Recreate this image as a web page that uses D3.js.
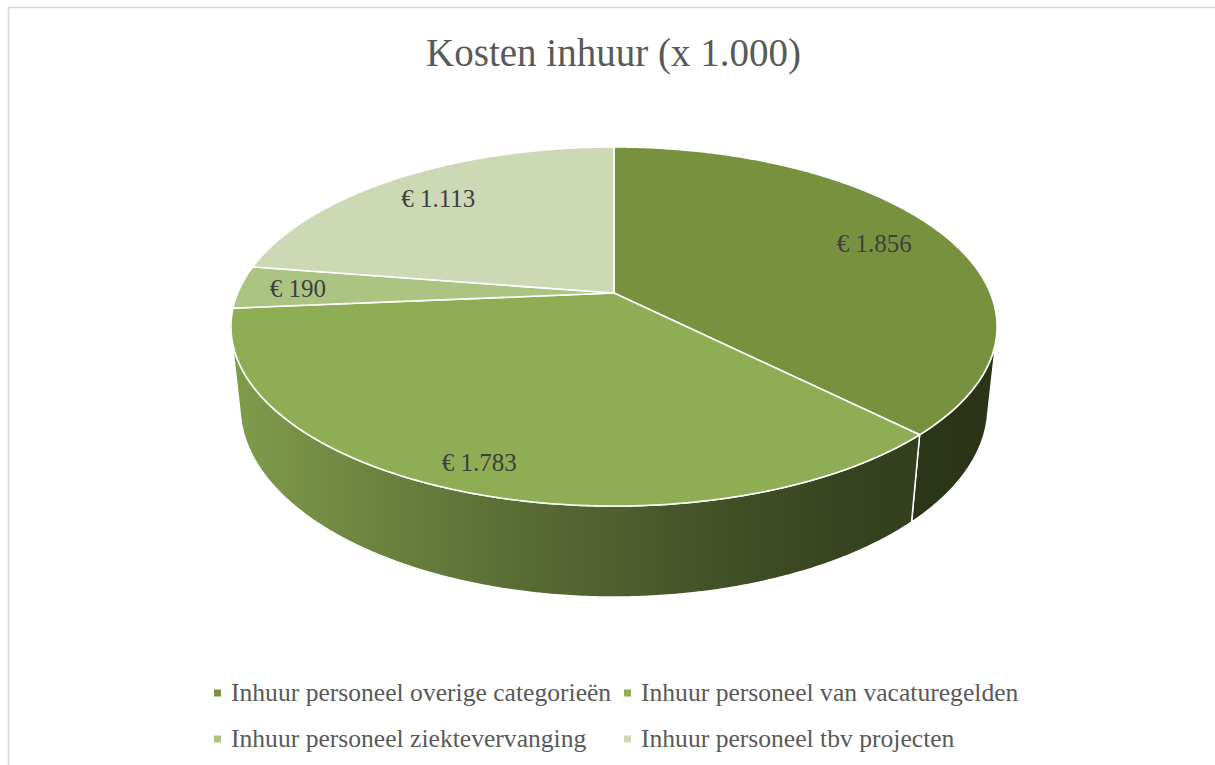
<!DOCTYPE html>
<html><head><meta charset="utf-8">
<script src="https://cdn.jsdelivr.net/npm/d3@7"></script>
<style>body{margin:0;background:#fff}svg{display:block}</style>
</head><body>
<svg id="chart" width="1215" height="765"></svg>
<script>
// ---- data ----
const chartTitle = "Kosten inhuur (x 1.000)";
const categories = [
  "Inhuur personeel overige categorieën",
  "Inhuur personeel van vacaturegelden",
  "Inhuur personeel ziektevervanging",
  "Inhuur personeel tbv projecten"
];
const values = [1856, 1783, 190, 1113];
const valueLabels = ["€ 1.856", "€ 1.783", "€ 190", "€ 1.113"];
const colors = ["#77913f", "#8fad54", "#abc481", "#cdd8b5"];

// ---- layout / 3D projection ----
const svg = d3.select("#chart");
const FONT = "'Liberation Serif', 'Times New Roman', serif";
const cx = 614, cy = 293;
const D = 1, R = 0.2103, H = 0.0511;
const sinA = 0.4605, cosA = Math.sqrt(1 - sinA * sinA);
const K = 1789.4;
const labelRadius = [0.79, 0.88, 0.845, 0.8];

function project(theta, rr, y) {
  const x3 = rr * R * Math.sin(theta);
  const z3 = rr * R * Math.cos(theta);
  const depth = D - y * sinA + z3 * cosA;
  const up = y * cosA + z3 * sinA;
  return [cx + K * x3 / depth, cy - K * up / depth];
}
function arcPts(a0, a1, rr, y) {
  const n = Math.max(2, Math.ceil(Math.abs(a1 - a0) / (Math.PI / 360)));
  return d3.range(n + 1).map(i => project(a0 + (a1 - a0) * i / n, rr, y));
}

// frame
svg.append("rect").attr("x", 8.5).attr("y", 7.5).attr("width", 1220).attr("height", 770)
  .attr("fill", "#fff").attr("stroke", "#d9d9d9").attr("stroke-width", 1.6);

// title
svg.append("text").attr("x", 613.5).attr("y", 66).attr("text-anchor", "middle")
  .attr("font-family", FONT).attr("font-size", 39).attr("fill", "#595959")
  .text(chartTitle);

const pie = d3.pie().sort(null).value(d => d);
const arcs = pie(values);

// wall shading gradients
const defs = svg.append("defs");
const shade = [[0, 0.9], [0.2, 0.75], [0.35, 0.64], [0.5, 0.55], [0.67, 0.45], [0.85, 0.37], [1, 0.36]];
const xL = project(-Math.PI / 2 - 0.19, 1, 0)[0], xR = project(Math.PI / 2 + 0.19, 1, 0)[0];
colors.forEach((c, i) => {
  const g = defs.append("linearGradient").attr("id", "wall" + i)
    .attr("gradientUnits", "userSpaceOnUse")
    .attr("x1", xL).attr("x2", xR).attr("y1", 0).attr("y2", 0);
  const base = d3.rgb(c);
  shade.forEach(([t, f]) => {
    g.append("stop").attr("offset", t)
      .attr("stop-color", d3.rgb(base.r * f, base.g * f, base.b * f).formatHex());
  });
});

// visible wall range (outward normal facing the camera)
const cosLim = -R / (D * cosA);
const vis0 = Math.acos(cosLim), vis1 = 2 * Math.PI - vis0;
const line = d3.line();

const walls = svg.append("g");
arcs.forEach((a, i) => {
  const s = Math.max(a.startAngle, vis0), e = Math.min(a.endAngle, vis1);
  if (e <= s) return;
  const pts = arcPts(s, e, 1, 0).concat(arcPts(e, s, 1, -H));
  walls.append("path").attr("d", line(pts) + "Z")
    .attr("fill", `url(#wall${i})`)
    .attr("stroke", "#fff").attr("stroke-width", 1.5).attr("stroke-linejoin", "round");
});

// top faces
const tops = svg.append("g");
arcs.forEach((a, i) => {
  const pts = [project(0, 0, 0)].concat(arcPts(a.startAngle, a.endAngle, 1, 0));
  tops.append("path").attr("d", line(pts) + "Z")
    .attr("fill", colors[i])
    .attr("stroke", "#fff").attr("stroke-width", 1.6).attr("stroke-linejoin", "round");
});

// data labels
arcs.forEach((a, i) => {
  const mid = (a.startAngle + a.endAngle) / 2;
  const [x, y] = project(mid, labelRadius[i], 0);
  svg.append("text").attr("x", x).attr("y", y).attr("dy", "0.35em")
    .attr("text-anchor", "middle").attr("font-family", FONT).attr("font-size", 25)
    .attr("fill", "#404040").text(valueLabels[i]);
});

// legend
const legendCols = [214, 624], legendRows = [693, 739];
categories.forEach((c, i) => {
  const col = i % 2, row = Math.floor(i / 2);
  const g = svg.append("g").attr("transform", `translate(${legendCols[col]},${legendRows[row]})`);
  g.append("rect").attr("x", 0).attr("y", -3.5).attr("width", 7).attr("height", 7).attr("fill", colors[i]);
  g.append("text").attr("x", 17).attr("y", 0).attr("dy", "0.33em")
    .attr("font-family", FONT).attr("font-size", 25.6).attr("fill", "#595959").text(c);
});
</script>
</body></html>
